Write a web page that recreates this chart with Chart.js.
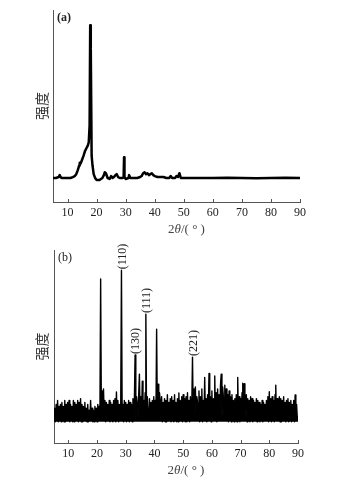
<!DOCTYPE html>
<html>
<head>
<meta charset="utf-8">
<script src="https://cdn.jsdelivr.net/npm/chart.js"></script>
<style>
  body { margin: 0; background: #fff; }
  #wrap { width: 343px; height: 484px; }
  canvas { display: block; }
</style>
</head>
<body>
<div id="wrap">
  <canvas id="chartA" width="343" height="242"></canvas>
  <canvas id="chartB" width="343" height="242"></canvas>
</div>
<script>
// 坐标刻度
const xTicks = [10, 20, 30, 40, 50, 60, 70, 80, 90];

// (a) 衍射曲线
const aAngles = [5, 6, 7, 7.3, 7.6, 8, 9, 10, 11, 11.8, 12.5, 13, 13.5, 14, 14.2, 14.5, 15, 15.5, 16, 16.5,
  17, 17.3, 17.6, 17.8, 18.0, 18.3, 18.6, 19, 19.5, 20, 21, 22, 22.5, 22.8, 23.2, 23.8, 24.5, 25, 25.5, 26,
  26.5, 26.9, 27.4, 28, 29, 29.3, 29.45, 29.6, 30, 31, 31.2, 31.6, 32, 33, 34, 35, 35.5, 36, 36.5, 37,
  37.5, 38, 38.5, 39, 39.5, 40, 41, 42, 43, 44, 45, 45.5, 46, 47, 47.5, 48, 48.5, 49, 50, 52,
  55, 60, 65, 70, 75, 80, 85, 90];
const aIntensity = [12.5, 12.5, 13, 14, 13, 12.5, 12.5, 12.5, 12.5, 13, 13.5, 14.5, 16.5, 19, 20.5, 20, 22, 24, 26.5, 28,
  29.5, 31, 40, 92, 80, 24, 19, 14.5, 12.5, 11.5, 11.5, 12.5, 14, 15.5, 15, 12.5, 12, 13.5, 12.5, 13,
  14, 14.5, 13, 12.5, 12.5, 13, 23.3, 13, 12, 12.5, 14, 12.5, 12.5, 12.5, 12.5, 13, 13.5, 15, 15.5, 14.5,
  15, 14, 14.5, 15, 14, 13.5, 13, 13, 13, 12.5, 12.5, 13.5, 12.5, 12.5, 13.5, 13, 15, 12.5, 12.5, 12.5,
  12.5, 12.5, 12.6, 12.5, 12.4, 12.5, 12.6, 12.5];

// (b) 衍射曲线, 起始角 5°, 步长 0.25°
const bStart = 5;
const bStep = 0.25;
const bIntensity = [
  12, 18, 11, 20,   12, 22, 11, 19,   13, 20, 11, 21,   12, 19, 11, 22,   11, 20, 12, 21,
  12, 22, 11, 20,   12, 19, 11, 22,   11, 21, 12, 20,   12, 22, 11, 21,   12, 23, 11, 20,
  11, 19, 12, 21,   12, 18, 11, 20,   11, 17, 12, 22,   12, 18, 11, 17,   11, 19, 12, 18,
  11, 20, 12, 19,   16, 85, 14, 27,   20, 28, 12, 22,   11, 21, 12, 20,   12, 22, 11, 21,
  12, 20, 11, 22,   12, 23, 11, 26.5, 12, 22, 11, 20,   12, 21, 89.5, 12, 20, 11, 22, 12,
  21, 11, 20, 12,   22, 11, 21, 12,   20, 11, 23, 12,   22, 45.6, 12, 24, 20, 13, 25, 35.7,
  14, 24, 12, 32,   14, 22, 12, 26,   66.8, 13, 24, 12, 13, 23, 12, 21,   12, 22, 13, 24,
  14, 22, 13, 59,   14, 30.5, 12, 26, 22, 12, 24, 11,   21, 12, 23, 11,   22, 11, 25, 12,
  21, 12, 23, 11,   24, 12, 22, 11,   25, 12, 21, 11,   23, 11, 25.9, 12, 22, 12, 24, 11,
  25, 12, 23, 11,   24, 11, 26, 12,   22, 11, 24, 16,   20, 44.5, 14, 28, 22, 29, 12, 24,
  21, 12, 27, 11,   24, 12, 28, 11,   22, 12, 34, 12,   23, 11, 25, 14,   36, 12, 24, 11,
  27, 12, 23, 12,   34.7, 12, 26, 11, 28, 12, 25, 12,   30, 35.7, 13, 29, 24, 12, 30, 12,
  28, 12, 25, 11,   27, 12, 24, 11,   25, 12, 22, 11,   23, 12, 25, 11,   34, 12, 24, 11,
  23, 12, 26, 31,   12, 30.7, 12, 22, 25, 11, 23, 12,   22, 11, 24, 12,   23, 11, 22, 12,
  21, 12, 23, 11,   22, 12, 21, 11,   20, 12, 22, 11,   21, 12, 20, 12,   22, 12, 24, 11,
  26.6, 12, 23, 11, 24, 12, 22, 11,   25, 30, 12, 23,   22, 12, 24, 11,   23, 11, 22, 12,
  24, 12, 21, 11,   22, 12, 23, 11,   21, 12, 22, 11,   20, 12, 22, 11,   24.9, 12, 20, 13,
  14
];

// 晶面标注
const peakAngles = [28.5, 33.25, 37, 53.25];
const peakTops = [89.5, 45.6, 66.8, 44.5];
const peakNames = ['(110)', '(130)', '(111)', '(221)'];

const serif = '"Liberation Serif", "Times New Roman", serif';
const inkColor = '#222';
const axisColor = '#555';

// 向内的刻度线
const innerTicks = {
  id: 'innerTicks',
  afterDraw(chart) {
    const ctx = chart.ctx;
    const x = chart.scales.x;
    ctx.save();
    ctx.strokeStyle = axisColor;
    ctx.lineWidth = 1;
    x.ticks.forEach(t => {
      const px = Math.round(x.getPixelForValue(t.value)) + 0.5;
      ctx.beginPath();
      ctx.moveTo(px, x.top);
      ctx.lineTo(px, x.top - 3);
      ctx.stroke();
    });
    ctx.restore();
  }
};

// 2θ/(°) 标题，θ 为斜体
const xTitle = {
  id: 'xTitle',
  afterDraw(chart) {
    const ctx = chart.ctx;
    const area = chart.chartArea;
    const parts = [['2', 'normal'], ['θ', 'italic'], ['/( ° )', 'normal']];
    ctx.save();
    ctx.fillStyle = '#444';
    ctx.textBaseline = 'middle';
    let w = 0;
    parts.forEach(p => { ctx.font = p[1] + ' 13px ' + serif; w += ctx.measureText(p[0]).width; });
    let cx = (area.left + area.right) / 2 + 10 - w / 2;
    parts.forEach(p => {
      ctx.font = p[1] + ' 13px ' + serif;
      ctx.fillText(p[0], cx, area.bottom + 28);
      cx += ctx.measureText(p[0]).width;
    });
    ctx.restore();
  }
};

// 面板编号与晶面标注
const panelText = {
  id: 'panelText',
  afterDraw(chart, args, opts) {
    const ctx = chart.ctx;
    const area = chart.chartArea;
    ctx.save();
    ctx.fillStyle = inkColor;
    ctx.textBaseline = 'middle';
    ctx.font = (opts.bold ? 'bold ' : '') + '12px ' + serif;
    ctx.fillText(opts.label, area.left + 4, area.top + 8);
    if (opts.peaks) {
      const x = chart.scales.x, y = chart.scales.y;
      ctx.font = '12px ' + serif;
      peakAngles.forEach((a, i) => {
        const px = x.getPixelForValue(a) + 1;
        const py = y.getPixelForValue(peakTops[i]) - 1;
        ctx.save();
        ctx.translate(px, py);
        ctx.rotate(-Math.PI / 2);
        ctx.textAlign = 'left';
        ctx.fillText(peakNames[i], 0, 0);
        ctx.restore();
      });
    }
    ctx.restore();
  }
};

function makeChart(id, points, lineWidth, cfg) {
  return new Chart(document.getElementById(id), {
    type: 'line',
    data: {
      datasets: [{
        data: points,
        borderColor: '#000',
        backgroundColor: '#000',
        borderWidth: lineWidth,
        borderJoinStyle: 'round',
        pointRadius: 0,
        tension: 0,
        fill: cfg.fill
      }]
    },
    options: {
      responsive: false,
      animation: false,
      events: [],
      layout: { padding: { left: 0, right: cfg.right, top: cfg.top, bottom: 0 } },
      plugins: {
        legend: { display: false },
        tooltip: { enabled: false },
        panelText: { label: cfg.label, bold: cfg.bold, peaks: cfg.peaks }
      },
      scales: {
        x: {
          type: 'linear',
          min: 5,
          max: 90,
          afterBuildTicks: s => { s.ticks = xTicks.map(v => ({ value: v })); },
          afterFit: s => { s.height = cfg.xHeight; },
          grid: { display: false, drawTicks: false },
          border: { display: true, color: axisColor, width: 1 },
          ticks: { padding: 4, color: inkColor, font: { family: serif, size: 12 }, maxRotation: 0 }
        },
        y: {
          min: 0,
          max: 100,
          afterFit: s => { s.width = cfg.yWidth; },
          grid: { display: false, drawTicks: false },
          border: { display: true, color: axisColor, width: 1 },
          ticks: { display: false },
          title: {
            display: true,
            text: '强度',
            color: '#333',
            padding: { top: 33, bottom: 0 },
            font: { family: '"Noto Sans CJK SC", sans-serif', size: 14 }
          }
        }
      }
    },
    plugins: [innerTicks, xTitle, panelText]
  });
}

const aPoints = aAngles.map((x, i) => ({ x: x, y: aIntensity[i] }));
const bPoints = bIntensity.map((y, i) => ({ x: bStart + i * bStep, y: y }));

makeChart('chartA', aPoints, 2.5, { right: 43, top: 10, xHeight: 40, yWidth: 53, label: '(a)', bold: true, peaks: false, fill: false });
makeChart('chartB', bPoints, 1.4, { right: 45, top: 8, xHeight: 41, yWidth: 54, label: '(b)', bold: false, peaks: true, fill: { value: 11 } });
</script>
</body>
</html>
